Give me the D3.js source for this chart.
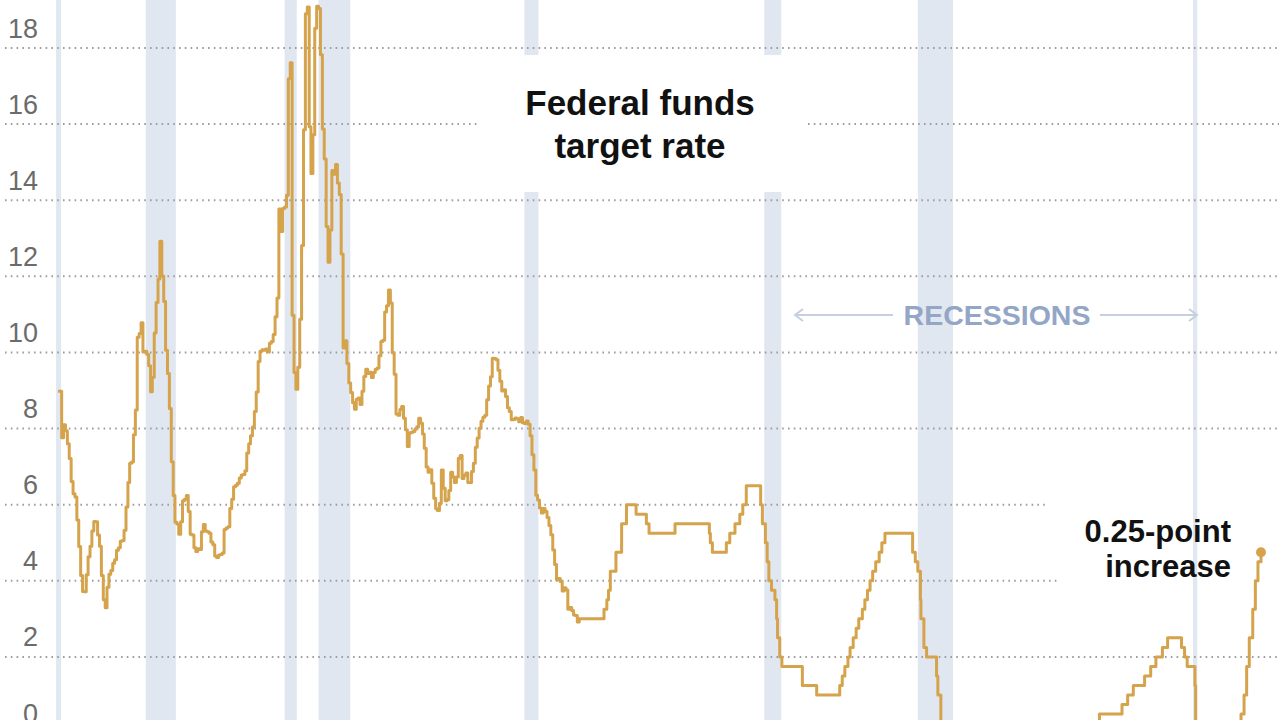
<!DOCTYPE html>
<html>
<head>
<meta charset="utf-8">
<script src="https://cdn.jsdelivr.net/npm/d3@7"></script>
<style>
  html, body { margin: 0; padding: 0; background: #fff; }
  svg { display: block; font-family: "Liberation Sans", Arial, sans-serif; }
</style>
</head>
<body>
<svg id="chart"></svg>
<script>
// monthly rate, Jan 1970 - Dec 1979
var rates1970s = [
  8.98, 8.98, 7.76, 8.10, 7.94, 7.60, 7.21, 6.61, 6.29, 6.20, 5.60, 4.90,
  4.14, 3.72, 3.71, 4.16, 4.63, 4.91, 5.31, 5.56, 5.55, 5.20, 4.91, 4.14,
  3.50, 3.29, 3.83, 4.17, 4.27, 4.46, 4.55, 4.80, 4.87, 5.04, 5.06, 5.33,
  5.94, 6.58, 7.09, 7.12, 7.84, 8.49, 10.40, 10.50, 10.78, 10.01, 10.03, 9.95,
  9.65, 8.97, 9.35, 10.51, 11.31, 11.93, 12.92, 12.01, 11.34, 10.06, 9.45, 8.53,
  7.13, 6.24, 5.54, 5.49, 5.22, 5.55, 6.10, 6.14, 6.24, 5.82, 5.22, 5.20,
  4.87, 4.77, 4.84, 4.82, 5.29, 5.48, 5.31, 5.29, 5.25, 5.02, 4.95, 4.65,
  4.61, 4.68, 4.69, 4.73, 5.35, 5.39, 5.42, 5.90, 6.14, 6.47, 6.51, 6.56,
  6.70, 6.78, 6.79, 6.89, 7.36, 7.60, 7.81, 8.04, 8.45, 8.96, 9.76, 10.03,
  10.07, 10.06, 10.09, 10.01, 10.24, 10.29, 10.47, 10.94, 11.43, 13.77, 13.18, 13.78
];
// monthly rate, Jan 1980 - Dec 1989
var rates1980s = [
  13.82, 14.13, 17.19, 17.61, 10.98, 9.47, 9.03, 9.61, 10.87, 12.81, 15.85, 18.90,
  19.08, 15.93, 14.70, 15.72, 18.52, 19.10, 19.04, 17.82, 15.87, 15.08, 13.31, 12.37,
  13.22, 14.78, 14.68, 14.94, 14.45, 14.15, 12.59, 10.12, 10.31, 9.71, 9.20, 8.95,
  8.68, 8.51, 8.77, 8.80, 8.63, 8.98, 9.37, 9.56, 9.45, 9.48, 9.34, 9.47,
  9.56, 9.59, 9.91, 10.29, 10.32, 11.06, 11.23, 11.64, 11.30, 9.99, 9.43, 8.38,
  8.35, 8.50, 8.58, 8.27, 7.97, 7.53, 7.88, 7.90, 7.92, 7.99, 8.05, 8.27,
  8.14, 7.86, 7.48, 6.99, 6.85, 6.92, 6.56, 6.17, 5.89, 5.85, 6.04, 6.91,
  6.43, 6.10, 6.13, 6.37, 6.85, 6.73, 6.58, 6.73, 7.22, 7.29, 6.69, 6.77,
  6.83, 6.58, 6.58, 6.87, 7.09, 7.51, 7.75, 8.01, 8.19, 8.30, 8.35, 8.76,
  9.12, 9.36, 9.85, 9.84, 9.81, 9.53, 9.24, 8.99, 9.02, 8.84, 8.55, 8.45
];
// monthly rate, Jan 1990 - Dec 1992
var rates1990s = [
  8.23, 8.24, 8.28, 8.26, 8.18, 8.29, 8.15, 8.13, 8.20, 8.11, 7.81, 7.31,
  6.91, 6.25, 6.12, 5.91, 5.78, 5.90, 5.82, 5.66, 5.45, 5.21, 4.81, 4.43,
  4.03, 4.06, 3.98, 3.73, 3.82, 3.76, 3.25, 3.30, 3.22, 3.10, 3.09, 2.92
];

// target changes from 1993 on
var targetDates = [
  "1993-01-01", "1994-02-04", "1994-03-22", "1994-04-18", "1994-05-17", "1994-08-16",
  "1994-11-15", "1995-02-01", "1995-07-06", "1995-12-19", "1996-01-31", "1997-03-25",
  "1998-09-29", "1998-10-15", "1998-11-17", "1999-06-30", "1999-08-24", "1999-11-16",
  "2000-02-02", "2000-03-21", "2000-05-16", "2001-01-03", "2001-01-31", "2001-03-20",
  "2001-04-18", "2001-05-15", "2001-06-27", "2001-08-21", "2001-09-17", "2001-10-02",
  "2001-11-06", "2001-12-11", "2002-11-06", "2003-06-25", "2004-06-30", "2004-08-10",
  "2004-09-21", "2004-11-10", "2004-12-14", "2005-02-02", "2005-03-22", "2005-05-03",
  "2005-06-30", "2005-08-09", "2005-09-20", "2005-11-01", "2005-12-13", "2006-01-31",
  "2006-03-28", "2006-05-10", "2006-06-29", "2007-09-18", "2007-10-31", "2007-12-11",
  "2008-01-22", "2008-01-30", "2008-03-18", "2008-04-30", "2008-10-08", "2008-10-29",
  "2008-12-16", "2015-12-16", "2016-12-14", "2017-03-15", "2017-06-14", "2017-12-13",
  "2018-03-21", "2018-06-13", "2018-09-26", "2018-12-19", "2019-07-31", "2019-09-18",
  "2019-10-30", "2020-03-03", "2020-03-15", "2022-03-16", "2022-05-04", "2022-06-15",
  "2022-07-27", "2022-09-21", "2022-11-02", "2022-12-14", "2023-02-01"
];
var targetRates = [
  3.00, 3.25, 3.50, 3.75, 4.25, 4.75,
  5.50, 6.00, 5.75, 5.50, 5.25, 5.50,
  5.25, 5.00, 4.75, 5.00, 5.25, 5.50,
  5.75, 6.00, 6.50, 6.00, 5.50, 5.00,
  4.50, 4.00, 3.75, 3.50, 3.00, 2.50,
  2.00, 1.75, 1.25, 1.00, 1.25, 1.50,
  1.75, 2.00, 2.25, 2.50, 2.75, 3.00,
  3.25, 3.50, 3.75, 4.00, 4.25, 4.50,
  4.75, 5.00, 5.25, 4.75, 4.50, 4.25,
  3.50, 3.00, 2.25, 2.00, 1.50, 1.00,
  0.25, 0.50, 0.75, 1.00, 1.25, 1.50,
  1.75, 2.00, 2.25, 2.50, 2.25, 2.00,
  1.75, 1.25, 0.25, 0.50, 1.00, 1.75,
  2.50, 3.25, 4.00, 4.50, 4.75
];

var recessionStarts = ["1969-12-01", "1973-11-15", "1980-01-01", "1981-07-01", "1990-08-01", "2001-03-01", "2007-12-10", "2020-02-01"];
var recessionEnds   = ["1970-02-20", "1975-03-15", "1980-07-15", "1982-11-25", "1991-03-15", "2001-12-01", "2009-06-30", "2020-04-10"];

var yTicks = [0, 2, 4, 6, 8, 10, 12, 14, 16, 18];

var width = 1279, height = 720;
var lineColor = "#d4a34b";
var parse = d3.timeParse("%Y-%m-%d");

var monthly = rates1970s.concat(rates1980s, rates1990s);
var months = d3.timeMonth.range(new Date(1970, 0, 1), new Date(1993, 0, 1));
var data = months.map(function (m, i) { return { date: m, rate: monthly[i] }; });
targetDates.forEach(function (d, i) {
  data.push({ date: parse(d), rate: targetRates[i] });
});

var x = d3.scaleTime()
    .domain([new Date(1970, 0, 1), new Date(2023, 1, 1)])
    .range([58, 1261]);

var y = d3.scaleLinear()
    .domain([0, 18])
    .range([733, 48]);

var svg = d3.select("#chart")
    .attr("width", width)
    .attr("height", height);

// recession bands
svg.append("g").selectAll("rect")
    .data(recessionStarts)
  .enter().append("rect")
    .attr("x", function (d) { return x(parse(d)); })
    .attr("y", 0)
    .attr("width", function (d, i) { return x(parse(recessionEnds[i])) - x(parse(d)); })
    .attr("height", height)
    .attr("fill", "#e1e7f1");

// dotted gridlines, broken where labels sit
function gridSegments(v) {
  if (v === 16) return [[5, 478], [808, width]];
  if (v === 6) return [[5, 1047]];
  if (v === 4) return [[5, 1060]];
  return [[5, width]];
}
var grid = svg.append("g");
yTicks.forEach(function (v) {
  gridSegments(v).forEach(function (s) {
    grid.append("line")
        .attr("x1", s[0]).attr("x2", s[1])
        .attr("y1", y(v)).attr("y2", y(v))
        .attr("stroke", "#9d9d9d")
        .attr("stroke-width", 2)
        .attr("stroke-dasharray", "1.6 4.2");
  });
});

// tick labels
svg.append("g")
    .attr("transform", "translate(38,0)")
    .call(d3.axisLeft(y).tickValues(yTicks).tickSize(0).tickPadding(0))
    .attr("font-size", 27)
    .attr("font-family", "\"Liberation Sans\", Arial, sans-serif")
    .style("color", "#6b6b6b")
    .call(function (g) { g.select(".domain").remove(); })
  .selectAll("text")
    .attr("y", -11)
    .attr("dy", 0);

// title box
svg.append("rect")
    .attr("x", 478).attr("y", 55)
    .attr("width", 330).attr("height", 137)
    .attr("fill", "#fff");

svg.append("text")
    .attr("x", 640)
    .attr("text-anchor", "middle")
    .attr("font-size", 35)
    .attr("font-weight", "bold")
    .attr("fill", "#111")
  .selectAll("tspan")
    .data(["Federal funds", "target rate"])
  .enter().append("tspan")
    .attr("x", 640)
    .attr("y", function (d, i) { return 115 + i * 43; })
    .text(function (d) { return d; });

// recessions label with arrows
var rec = svg.append("g");
rec.append("text")
    .attr("x", 997)
    .attr("y", 325)
    .attr("text-anchor", "middle")
    .attr("font-size", 28.5)
    .attr("font-weight", "bold")
    .attr("fill", "#93a6c6")
    .text("RECESSIONS");
rec.append("path")
    .attr("d", "M795,315H893M803,309L795,315L803,321M1100,315H1197M1189,309L1197,315L1189,321")
    .attr("fill", "none")
    .attr("stroke", "#c6cfdf")
    .attr("stroke-width", 2);

// rate line
var line = d3.line()
    .x(function (d) { return x(d.date); })
    .y(function (d) { return y(d.rate); })
    .curve(d3.curveStepAfter);

svg.append("path")
    .datum(data)
    .attr("d", line)
    .attr("fill", "none")
    .attr("stroke", lineColor)
    .attr("stroke-width", 3)
    .attr("stroke-linejoin", "round");

var last = data[data.length - 1];
svg.append("circle")
    .attr("cx", x(last.date))
    .attr("cy", y(last.rate))
    .attr("r", 5)
    .attr("fill", lineColor);

svg.append("text")
    .attr("text-anchor", "end")
    .attr("font-size", 31)
    .attr("font-weight", "bold")
    .attr("fill", "#111")
  .selectAll("tspan")
    .data(["0.25-point", "increase"])
  .enter().append("tspan")
    .attr("x", 1231)
    .attr("y", function (d, i) { return 542 + i * 35; })
    .text(function (d) { return d; });
</script>
</body>
</html>
